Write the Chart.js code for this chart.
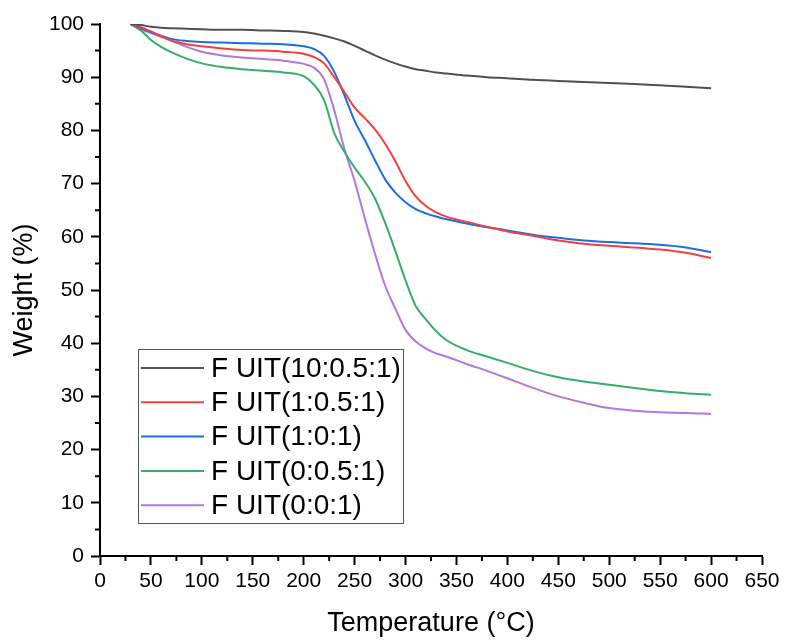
<!DOCTYPE html>
<html>
<head>
<meta charset="utf-8">
<script src="https://cdn.jsdelivr.net/npm/chart.js@4.4.1/dist/chart.umd.min.js"></script>
<style>
  html, body { margin: 0; padding: 0; background: #fff; }
  #wrap { width: 785px; height: 640px; }
</style>
</head>
<body>
<div id="wrap"><canvas id="tgaChart" width="785" height="640"></canvas></div>
<script>
// 온도 (°C)
const temps = [30, 40, 50, 60, 70, 85, 100, 120, 140, 160, 180, 200, 210, 220, 230, 240, 250, 260, 270, 280,
    290, 300, 310, 320, 330, 340, 360, 380, 400, 425, 450, 475, 500, 525, 550, 575, 600];

// 각 시료의 무게 (%)
const wBlack = [100, 99.8, 99.5, 99.3, 99.2, 99.1, 99.0, 98.9, 98.9, 98.8, 98.7, 98.5, 98.2, 97.8, 97.3, 96.7, 95.9, 95.0, 94.1, 93.3,
    92.6, 92.0, 91.5, 91.2, 90.9, 90.7, 90.3, 90.0, 89.8, 89.5, 89.3, 89.1, 88.9, 88.7, 88.5, 88.2, 87.9];
const wRed = [100, 99.4, 98.6, 97.7, 96.9, 96.2, 95.8, 95.4, 95.1, 95.0, 94.8, 94.4, 93.8, 92.6, 90.0, 87.2, 84.3, 82.3, 80.2, 77.5,
    74.2, 70.5, 67.6, 65.8, 64.6, 63.8, 62.8, 61.9, 61.0, 60.2, 59.3, 58.7, 58.3, 58.0, 57.6, 57.0, 56.0];
const wBlue = [100, 99.2, 98.5, 97.8, 97.2, 96.8, 96.6, 96.5, 96.4, 96.3, 96.2, 95.8, 95.3, 94.0, 91.0, 86.6, 81.8, 78.2, 74.4, 70.8,
    68.3, 66.5, 65.2, 64.4, 63.8, 63.3, 62.5, 61.8, 61.2, 60.4, 59.8, 59.3, 59.0, 58.8, 58.5, 58.0, 57.1];
const wGreen = [100, 98.8, 97.0, 95.7, 94.7, 93.5, 92.6, 91.9, 91.5, 91.2, 90.9, 90.2, 88.6, 85.7, 79.5, 76.0, 73.0, 70.4, 67.2, 62.6,
    57.3, 51.8, 47.0, 44.5, 42.3, 40.6, 38.7, 37.5, 36.3, 34.8, 33.6, 32.8, 32.2, 31.6, 31.0, 30.6, 30.3];
const wPurple = [100, 99.0, 98.3, 97.6, 96.9, 95.7, 94.8, 94.1, 93.7, 93.4, 93.1, 92.5, 91.8, 89.6, 83.8, 76.5, 70.5, 63.5, 56.8, 50.8,
    46.5, 42.5, 40.3, 39.0, 38.1, 37.5, 36.1, 34.8, 33.4, 31.6, 30.0, 28.8, 27.8, 27.3, 27.0, 26.9, 26.7];

const seriesLabels = ['F UIT(10:0.5:1)', 'F UIT(1:0.5:1)', 'F UIT(1:0:1)', 'F UIT(0:0.5:1)', 'F UIT(0:0:1)'];
const seriesColors = ['#515151', '#F14040', '#1A6FDF', '#37AD6B', '#B177DE'];
const seriesWeights = [wBlack, wRed, wBlue, wGreen, wPurple];

const FONT = "'Liberation Sans', Arial, sans-serif";

// x, y 쌍으로 변환
function toPoints(weights) {
    return temps.map((t, i) => ({ x: t, y: weights[i] }));
}

// 보조 눈금 그리기
const minorTicks = {
    id: 'minorTicks',
    afterDraw(chart) {
        const ctx = chart.ctx;
        const xs = chart.scales.x;
        const ys = chart.scales.y;
        const area = chart.chartArea;
        ctx.save();
        ctx.strokeStyle = '#000';
        ctx.lineWidth = 2;
        ctx.beginPath();
        for (let v = 25; v < 650; v += 50) {
            const px = xs.getPixelForValue(v);
            ctx.moveTo(px, area.bottom);
            ctx.lineTo(px, area.bottom + 5);
        }
        for (let v = 5; v < 100; v += 10) {
            const py = ys.getPixelForValue(v);
            ctx.moveTo(area.left, py);
            ctx.lineTo(area.left - 5, py);
        }
        ctx.stroke();
        ctx.restore();
    }
};

// 범례 상자 (차트 안쪽)
const insideLegend = {
    id: 'insideLegend',
    afterDraw(chart) {
        const ctx = chart.ctx;
        const boxX = 138, boxY = 349, boxW = 265, boxH = 174;
        ctx.save();
        ctx.fillStyle = '#fff';
        ctx.fillRect(boxX, boxY, boxW, boxH);
        ctx.strokeStyle = '#555';
        ctx.lineWidth = 1;
        ctx.strokeRect(boxX + 0.5, boxY + 0.5, boxW, boxH);
        ctx.font = '28px ' + FONT;
        ctx.textBaseline = 'middle';
        chart.data.datasets.forEach((ds, i) => {
            const y = 368 + i * 34.3;
            ctx.strokeStyle = ds.borderColor;
            ctx.lineWidth = 2;
            ctx.beginPath();
            ctx.moveTo(141, y);
            ctx.lineTo(204, y);
            ctx.stroke();
            ctx.fillStyle = '#000';
            ctx.fillText(ds.label, 211, y + 1);
        });
        ctx.restore();
    }
};

const ctx = document.getElementById('tgaChart').getContext('2d');
new Chart(ctx, {
    type: 'line',
    data: {
        datasets: seriesLabels.map((label, i) => ({
            label: label,
            data: toPoints(seriesWeights[i]),
            borderColor: seriesColors[i],
            backgroundColor: seriesColors[i],
            borderWidth: 2,
            pointRadius: 0,
            fill: false,
            cubicInterpolationMode: 'monotone'
        }))
    },
    options: {
        responsive: false,
        animation: false,
        layout: {
            padding: { left: 0, top: 24, right: 23, bottom: 0 }
        },
        plugins: {
            legend: { display: false },
            tooltip: { enabled: false }
        },
        scales: {
            x: {
                type: 'linear',
                min: 0,
                max: 650,
                afterFit: (scale) => { scale.height = 84; },
                ticks: {
                    stepSize: 50,
                    color: '#000',
                    padding: 4,
                    maxRotation: 0,
                    font: { family: FONT, size: 21 }
                },
                grid: {
                    drawOnChartArea: false,
                    drawTicks: true,
                    tickLength: 9,
                    tickColor: '#000',
                    tickWidth: 2
                },
                border: { display: true, color: '#000', width: 2 },
                title: {
                    display: true,
                    text: 'Temperature (°C)',
                    color: '#000',
                    font: { family: FONT, size: 27 },
                    padding: { top: 0, bottom: 0 }
                }
            },
            y: {
                min: 0,
                max: 100,
                afterFit: (scale) => { scale.width = 100; },
                ticks: {
                    stepSize: 10,
                    color: '#000',
                    padding: 7,
                    font: { family: FONT, size: 21 }
                },
                grid: {
                    drawOnChartArea: false,
                    drawTicks: true,
                    tickLength: 9,
                    tickColor: '#000',
                    tickWidth: 2
                },
                border: { display: true, color: '#000', width: 2 },
                title: {
                    display: true,
                    text: 'Weight (%)',
                    color: '#000',
                    font: { family: FONT, size: 27 },
                    padding: { top: 8, bottom: 0 }
                }
            }
        }
    },
    plugins: [minorTicks, insideLegend]
});
</script>
</body>
</html>
